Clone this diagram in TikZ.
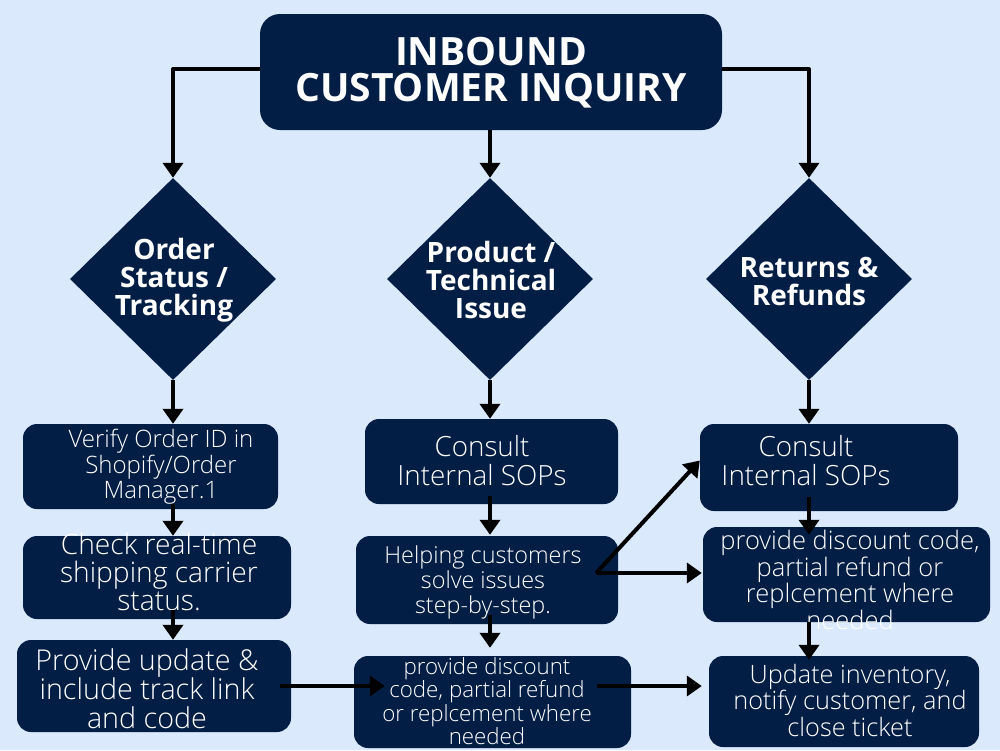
\documentclass[tikz,border=0pt]{standalone}
\usepackage{fontspec}
\setmainfont{Open Sans}
\newfontfamily\lightfont{Open Sans Light}
\usetikzlibrary{shapes.geometric,arrows.meta,calc}
\definecolor{bg}{RGB}{219,233,252}
\definecolor{navy}{RGB}{3,30,69}
\begin{document}
\begin{tikzpicture}[x=1pt,y=-1pt,
  box/.style={fill=navy, rounded corners=14pt, inner sep=0pt},
  dia/.style={diamond, fill=navy, inner sep=0pt, minimum width=206pt, minimum height=202pt},
  arr/.style={line width=4pt, line join=round, -{Triangle[width=20pt,length=15pt]}},
  txt/.style={text=white, align=center, inner sep=0pt},
  ttl/.style={txt, font=\bfseries\fontsize{39}{36}\selectfont},
  dtxt/.style={txt, font=\bfseries\fontsize{28}{28}\selectfont},
]
\fill[bg] (0,0) rectangle (1000,750);
\useasboundingbox (0,0) rectangle (1000,750);

% title
\node[box, rounded corners=20pt, minimum width=462pt, minimum height=116pt] (T) at (491,72) {};
\node[ttl] (Tt) at (491,73) {INBOUND\\CUSTOMER INQUIRY};

% diamonds
\node[dia] (D1) at (173,279) {};
\node[dtxt] (D1t) at (174,280) {Order\\Status /\\Tracking};
\node[dia] (D2) at (490,279) {};
\node[dtxt] (D2t) at (491,280) {Product /\\Technical\\Issue};
\node[dia] (D3) at (809,279) {};
\node[dtxt] (D3t) at (809,281) {Returns \&\\Refunds};

% left column
\node[box, minimum width=255pt, minimum height=85pt] (L1) at (150.5,466.5) {};
\node[txt, font=\lightfont\fontsize{24}{25.5}\selectfont] (L1t) at (161,467) {Verify Order ID in\\Shopify/Order\\Manager.1};
\node[box, minimum width=268pt, minimum height=83pt] (L2) at (157,577.5) {};
\node[txt, font=\lightfont\fontsize{28.2}{28}\selectfont] (L2t) at (159,572) {Check real-time\\shipping carrier\\status.};
\node[box, minimum width=274pt, minimum height=92pt] (L3) at (154,686) {};
\node[txt, font=\lightfont\fontsize{28.7}{29}\selectfont] (L3t) at (147,689) {Provide update \&\\include track link\\and code};

% middle column
\node[box, minimum width=253pt, minimum height=85pt] (M1) at (491.5,461.5) {};
\node[txt, font=\lightfont\fontsize{27.8}{29}\selectfont] (M1t) at (482,460.5) {Consult\\Internal SOPs};
\node[box, minimum width=262pt, minimum height=88pt] (M2) at (487,580) {};
\node[txt, font=\lightfont\fontsize{23.4}{25}\selectfont] (M2t) at (483,582) {Helping customers\\solve issues\\step-by-step.};
\node[box, minimum width=277pt, minimum height=92pt] (M3) at (492.5,702) {};
\node[txt, font=\lightfont\fontsize{22.3}{23.3}\selectfont] (M3t) at (487,701) {provide discount\\code, partial refund\\or replcement where\\needed};

% right column
\node[box, minimum width=258pt, minimum height=87pt] (R1) at (829,467.5) {};
\node[txt, font=\lightfont\fontsize{27.8}{29}\selectfont] (R1t) at (806,460.5) {Consult\\Internal SOPs};
\node[box, minimum width=287pt, minimum height=95pt] (R2) at (846.5,574.5) {};
\node[txt, font=\lightfont\fontsize{25.5}{24.7}\selectfont] (R2t) at (850,580) {provide discount code,\\partial refund or\\replcement where\\needed};
\node[box, minimum width=270pt, minimum height=91pt] (R3) at (844,701.5) {};
\node[txt, font=\lightfont\fontsize{25.3}{26.5}\selectfont] (R3t) at (850,700) {Update inventory,\\notify customer, and\\close ticket};

% column coordinates
\coordinate (c1) at (173,0);
\coordinate (c2) at (490,0);
\coordinate (c3) at (809,0);

% connectors from title
\draw[arr] ($(T.west)+(0,-3)$) -| (D1.north);
\draw[arr] (c2 |- T.south) -- (D2.north);
\draw[arr] ($(T.east)+(0,-3)$) -| (D3.north);

% left column
\draw[arr] (D1.south) -- (c1 |- L1.north);
\draw[arr] ($(c1 |- L1.south)+(0,-5)$) -- (c1 |- L2.north);
\draw[arr] ($(c1 |- L2.south)+(0,-9)$) -- (c1 |- L3.north);
\draw[arr] ($(L3.east)+(-11,0)$) -- ($(M3.west |- L3.east)+(31,0)$);

% middle column
\draw[arr] (D2.south) -- (c2 |- M1.north);
\draw[arr] ($(c2 |- M1.south)+(0,-8)$) -- ($(c2 |- M2.north)+(0,-1)$);
\draw[arr] ($(c2 |- M2.south)+(0,-9)$) -- ($(c2 |- M3.north)+(0,-8)$);
\draw[arr] ($(M3.east |- L3.east)+(-34,0)$) -- ($(R3.west |- L3.east)+(-7,0)$);
\coordinate (s) at ($(M2.east)+(-22,-7)$);
\draw[arr] (s) -- ($(R1.west)+(0,-7)$);
\draw[arr] (s) -- ($(R2.west |- s)+(-1,0)$);

% right column
\draw[arr] (D3.south) -- (c3 |- R1.north);
\draw[arr] ($(c3 |- R1.south)+(0,-14)$) -- ($(c3 |- R2.north)+(0,8)$);
\draw[arr] ($(c3 |- R2.south)$) -- ($(c3 |- R3.north)+(0,4)$);
\end{tikzpicture}
\end{document}
